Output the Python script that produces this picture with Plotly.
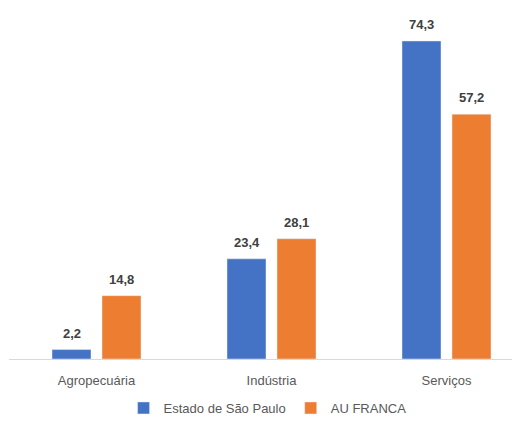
import plotly.graph_objects as go

# data
categories = ["Agropecuária", "Indústria", "Serviços"]
sao_paulo = [2.2, 23.4, 74.3]
au_franca = [14.8, 28.1, 57.2]
series_names = ["Estado de São Paulo", "AU FRANCA"]
colors = ["#4472C4", "#ED7D31"]


def fmt(v):
    # Brazilian decimal comma
    return f"{v:.1f}".replace(".", ",")


x_pos = list(range(len(categories)))
font_family = "Liberation Sans, Arial, sans-serif"

fig = go.Figure()
for name, values, color in zip(series_names, [sao_paulo, au_franca], colors):
    fig.add_trace(go.Bar(x=x_pos, y=values, name=name, marker=dict(color=color)))

# value labels above bars, shifted half a bar slot left/right of the category
bargap = 0.4286
px_per_cat = 175
half_slot = px_per_cat * (1 - bargap) / 4
for shift, values in zip([-half_slot, half_slot], [sao_paulo, au_franca]):
    for i, v in zip(x_pos, values):
        fig.add_annotation(
            x=i, y=v, xref="x", yref="y", text=f"<b>{fmt(v)}</b>",
            showarrow=False, yanchor="bottom", xshift=shift, yshift=7,
            font=dict(size=13, color="#404040", family=font_family),
        )

# page body adds an 8px offset, so margins are trimmed to compensate
fig.update_layout(
    width=512, height=415,
    margin=dict(l=1, r=0, t=12, b=61),
    paper_bgcolor="white", plot_bgcolor="white",
    barmode="group", bargap=bargap, bargroupgap=0.22,
    font=dict(family=font_family, size=13, color="#595959"),
    showlegend=True,
    legend=dict(orientation="h", x=0.506, xanchor="center", y=-0.146, yanchor="middle",
                font=dict(size=13, color="#595959"), itemwidth=30),
)
fig.update_xaxes(
    tickmode="array", tickvals=x_pos, ticktext=categories,
    range=[-0.5, 2.42], showgrid=False, zeroline=False,
    showline=True, linecolor="#d9d9d9", linewidth=1, ticks="",
    ticklabelstandoff=9,
)
fig.update_yaxes(range=[0, 79.2], visible=False, showgrid=False, zeroline=False)

fig.write_html("out.html")
